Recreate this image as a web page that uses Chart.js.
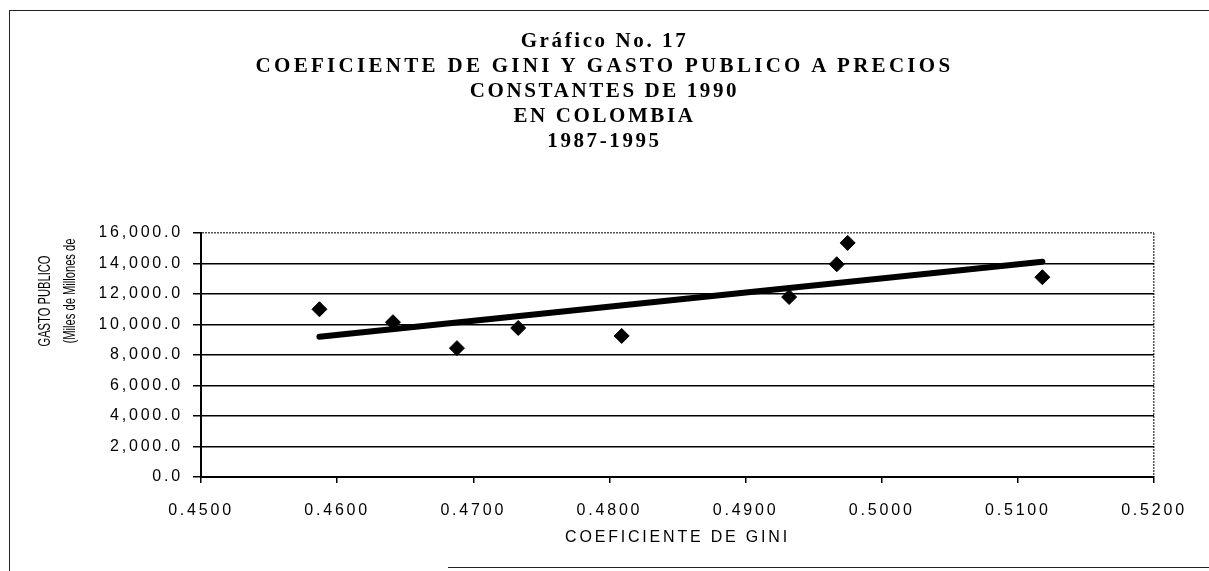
<!DOCTYPE html>
<html>
<head>
<meta charset="utf-8">
<title>Gráfico No. 17</title>
<script src="https://cdn.jsdelivr.net/npm/chart.js@4/dist/chart.umd.min.js"></script>
<style>
  html, body { margin: 0; padding: 0; background: #fff; }
  #wrap { position: relative; width: 1209px; height: 571px; overflow: hidden; }
  #chart { position: absolute; left: 0; top: 0; }
  .frame { position: absolute; border-color: #222; border-style: solid; border-width: 0; }
  #title {
    position: absolute; left: 0; top: 28px; width: 1209px; text-align: center;
    font-family: "Liberation Serif", "Times New Roman", serif; font-weight: bold;
    font-size: 21px; line-height: 25px; letter-spacing: 2.6px; color: #000;
  }
  #title .wide { letter-spacing: 3.3px; }
  .ytitle {
    position: absolute; white-space: nowrap; color: #000;
    font-family: "Liberation Sans", Arial, sans-serif; font-size: 13px;
    transform: translate(-50%, -50%) rotate(-90deg) scale(0.86, 1.3);
  }
</style>
</head>
<body>
<div id="wrap">
  <canvas id="chart" width="1209" height="571"></canvas>
  <div class="frame" style="left:9px; top:10px; right:0; height:0; border-top-width:1.5px;"></div>
  <div class="frame" style="left:9px; top:10px; bottom:0; width:0; border-left-width:1.5px;"></div>
  <div class="frame" style="left:448px; top:567px; right:0; height:0; border-top-width:1.5px;"></div>
  <div id="title">
    Gráfico No. 17<br>
    <span class="wide">COEFICIENTE DE GINI Y GASTO PUBLICO A PRECIOS</span><br>
    CONSTANTES DE 1990<br>
    EN COLOMBIA<br>
    1987-1995
  </div>
  <div class="ytitle" style="left:44px; top:301px;">GASTO PUBLICO</div>
  <div class="ytitle" style="left:69px; top:291px;">(Miles de Millones de</div>
</div>

<script>
// coeficiente de Gini y gasto publico (miles de millones de pesos de 1990), 1987-1995
const gini = [0.4587, 0.4641, 0.4688, 0.4733, 0.4809, 0.4932, 0.4967, 0.4975, 0.5118];
const gasto = [11000, 10150, 8450, 9770, 9250, 11800, 13950, 15350, 13100];

// linear trend line, read from its two ends
const trendGini = [0.4587, 0.5118];
const trendGasto = [9200, 14120];

// axis ticks
const xTicks = [0.45, 0.46, 0.47, 0.48, 0.49, 0.50, 0.51, 0.52];
const yTicks = [0, 2000, 4000, 6000, 8000, 10000, 12000, 14000, 16000];

const font = "'Liberation Sans', Arial, sans-serif";

// the scanned labels are widely spaced
const spacing = {
  id: 'spacing',
  beforeLayout(chart) { chart.ctx.letterSpacing = '2.8px'; },
  beforeDraw(chart) { chart.ctx.letterSpacing = '2.8px'; }
};

const ctx = document.getElementById('chart').getContext('2d');
new Chart(ctx, {
  type: 'scatter',
  data: {
    datasets: [
      {
        label: 'Gasto publico',
        data: gini.map((g, i) => ({ x: g, y: gasto[i] })),
        backgroundColor: '#000',
        borderColor: '#000',
        pointStyle: 'rectRot',
        pointRadius: 7.5,
        pointHoverRadius: 7.5
      },
      {
        label: 'Tendencia',
        data: trendGini.map((g, i) => ({ x: g, y: trendGasto[i] })),
        showLine: true,
        borderColor: '#000',
        borderWidth: 6,
        borderCapStyle: 'round',
        pointRadius: 0
      }
    ]
  },
  options: {
    responsive: false,
    animation: false,
    devicePixelRatio: 1,
    layout: { padding: { left: 100, right: 55, top: 233, bottom: 0 } },
    plugins: {
      legend: { display: false },
      tooltip: { enabled: false }
    },
    scales: {
      x: {
        type: 'linear',
        min: xTicks[0],
        max: xTicks[xTicks.length - 1],
        afterBuildTicks: s => { s.ticks = xTicks.map(v => ({ value: v })); },
        afterFit: s => { s.height = 94; },
        ticks: {
          color: '#000',
          padding: 18,
          maxRotation: 0,
          font: { family: font, size: 16 },
          callback: v => v.toFixed(4)
        },
        grid: {
          color: c => c.index === xTicks.length - 1 ? '#555' : 'rgba(0,0,0,0)',
          tickColor: '#000',
          tickLength: 6,
          lineWidth: 1.5
        },
        border: { display: true, color: '#000', width: 2, dash: c => c.index === xTicks.length - 1 ? [2, 1] : [] },
        title: {
          display: true,
          text: 'COEFICIENTE DE GINI',
          color: '#000',
          font: { family: font, size: 16 },
          padding: { top: 0, bottom: 24 }
        }
      },
      y: {
        type: 'linear',
        min: yTicks[0],
        max: yTicks[yTicks.length - 1],
        afterBuildTicks: s => { s.ticks = yTicks.map(v => ({ value: v })); },
        afterFit: s => { s.width = 101; },
        ticks: {
          color: '#000',
          padding: 10,
          font: { family: font, size: 16 },
          callback: v => v.toLocaleString('en-US', { minimumFractionDigits: 1, maximumFractionDigits: 1 })
        },
        grid: {
          color: c => c.index === yTicks.length - 1 ? '#555' : '#000',
          tickColor: '#000',
          tickLength: 8,
          lineWidth: 1.5
        },
        border: { display: true, color: '#000', width: 2, dash: c => c.index === yTicks.length - 1 ? [2, 1] : [] }
      }
    }
  },
  plugins: [spacing]
});
</script>
</body>
</html>
